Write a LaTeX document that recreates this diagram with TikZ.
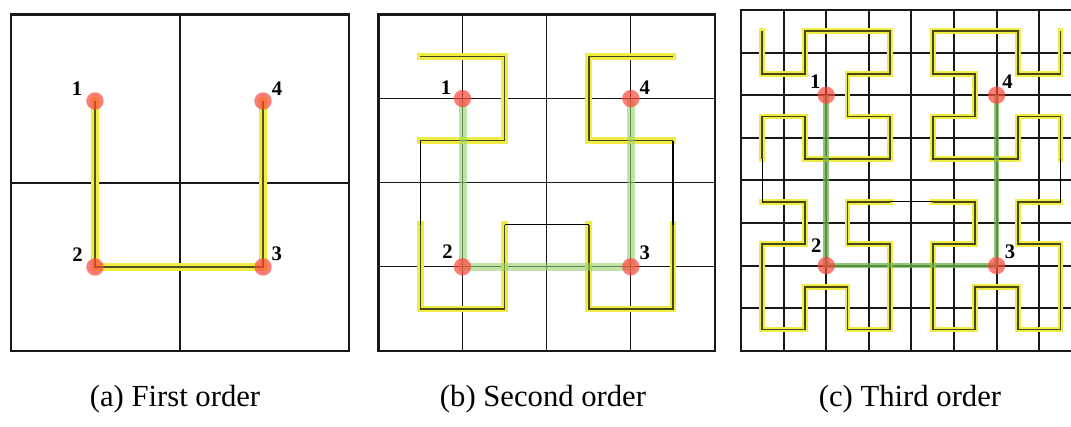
\documentclass[tikz,border=0pt]{standalone}
\usepackage{fontspec}
\setmainfont{Liberation Serif}
\definecolor{hyellow}{RGB}{240,236,70}
\definecolor{hgreenb}{RGB}{150,210,110}
\definecolor{hgreenc}{RGB}{110,180,80}
\definecolor{hred}{RGB}{250,70,60}
\begin{document}
\begin{tikzpicture}[x=0.75pt,y=-0.75pt,
  frame/.style={draw=black!90, line width=1.8pt},
  gridA/.style={draw=black!90, line width=1.5pt},
  gridB/.style={draw=black!90, line width=1pt},
  gridC/.style={draw=black!90, line width=1.4pt},
  ylwA/.style={draw=hyellow, line width=6pt, line cap=rect, line join=miter},
  ylwB/.style={draw=hyellow, line width=5pt, line cap=rect, line join=miter},
  ylwC/.style={draw=hyellow, line width=4.3pt, line cap=rect, line join=miter},
  coreA/.style={draw=black, draw opacity=0.65, line width=1.8pt},
  coreB/.style={draw=black, draw opacity=0.7, line width=1.3pt},
  conn/.style={draw=black, line width=0.9pt},
  grnB/.style={draw=hgreenb, draw opacity=0.6, line width=6pt},
  grnC/.style={draw=hgreenc, draw opacity=0.75, line width=4.2pt},
  dot/.style={circle, fill=hred, fill opacity=0.7, inner sep=0pt, minimum size=13pt},
  num/.style={font=\bfseries\fontsize{15.5}{15.5}\selectfont, inner sep=0pt},
  captxt/.style={font=\fontsize{23}{26}\selectfont, anchor=base, inner sep=0pt}]
\useasboundingbox (0,0) rectangle (1071,426);
\clip (0,0) rectangle (1071,426);
\fill[white] (0,0) rectangle (1071,426);

% ---------------- Panel (a)
\draw[gridA] (179.8,14.3) -- (179.8,351);
\draw[gridA] (10.7,182.6) -- (349,182.6);
\draw[frame] (10.7,14.3) rectangle (349,351);
\coordinate (a1) at (95,101);
\coordinate (a2) at (95,267);
\coordinate (a3) at (263,267);
\coordinate (a4) at (263,101);
\draw[ylwA] (a1) -- (a2) -- (a3) -- (a4);
\draw[coreA] (a1) -- (a2) -- (a3) -- (a4);
\foreach \p in {a1,a2,a3,a4} \node[dot] (\p d) at (\p) {};
\node[num] (la1) at ([shift={(-18,-12)}]a1) {1};
\node[num] (la2) at ([shift={(-17.5,-12.5)}]a2) {2};
\node[num] (la3) at ([shift={(13.7,-13)}]a3) {3};
\node[num] (la4) at ([shift={(14,-12)}]a4) {4};

% ---------------- Panel (b)
\foreach \i in {1,2,3} {
  \draw[gridB] (378.3+\i*84.17,14.3) -- (378.3+\i*84.17,351);
  \draw[gridB] (378.3,14.3+\i*84.17) -- (715,14.3+\i*84.17);
}
\draw[frame] (378.3,14.3) rectangle (715,351);
\begin{scope}[shift={(420.4,56.4)}, x={(63.13pt,0pt)}, y={(0pt,-63.13pt)}]
  \draw[ylwB] (0,0) -- (1,0) -- (1,1) -- (0,1);
  \draw[ylwB] (0,2) -- (0,3) -- (1,3) -- (1,2);
  \draw[ylwB] (2,2) -- (2,3) -- (3,3) -- (3,2);
  \draw[ylwB] (3,1) -- (2,1) -- (2,0) -- (3,0);
  \draw[coreB] (0,0) -- (1,0) -- (1,1) -- (0,1);
  \draw[coreB] (0,2) -- (0,3) -- (1,3) -- (1,2);
  \draw[coreB] (2,2) -- (2,3) -- (3,3) -- (3,2);
  \draw[coreB] (3,1) -- (2,1) -- (2,0) -- (3,0);
  \draw[conn] (0,1) -- (0,2);
  \draw[conn] (1,2) -- (2,2);
  \draw[conn] (3,2) -- (3,1);
\end{scope}
\coordinate (b1) at (462.5,98.5);
\coordinate (b2) at (462.5,266.8);
\coordinate (b3) at (630.8,266.8);
\coordinate (b4) at (630.8,98.5);
\draw[grnB] (b1) -- (b2) -- (b3) -- (b4);
\foreach \p in {b1,b2,b3,b4} \node[dot] (\p d) at (\p) {};
\node[num] (lb1) at ([shift={(-16.5,-10.5)}]b1) {1};
\node[num] (lb2) at ([shift={(-15,-15)}]b2) {2};
\node[num] (lb3) at ([shift={(14,-14)}]b3) {3};
\node[num] (lb4) at ([shift={(14,-10.5)}]b4) {4};

% ---------------- Panel (c)
\foreach \i in {1,...,7} {
  \draw[gridC] (741+\i*42.6,10) -- (741+\i*42.6,350.8);
  \draw[gridC] (741,10+\i*42.6) -- (1082,10+\i*42.6);
}
\draw[frame] (741,10) rectangle (1081.8,350.8);
\begin{scope}[shift={(762.3,31.3)}, x={(31.95pt,0pt)}, y={(0pt,-31.95pt)}]
  \foreach \s in {ylwC,coreB} {
    \draw[\s] (0,0) -- (0,1) -- (1,1) -- (1,0) -- (2,0) -- (3,0) -- (3,1) -- (2,1) -- (2,2) -- (3,2) -- (3,3) -- (2,3) -- (1,3) -- (1,2) -- (0,2) -- (0,3);
    \draw[\s] (0,4) -- (1,4) -- (1,5) -- (0,5) -- (0,6) -- (0,7) -- (1,7) -- (1,6) -- (2,6) -- (2,7) -- (3,7) -- (3,6) -- (3,5) -- (2,5) -- (2,4) -- (3,4);
    \draw[\s] (4,4) -- (5,4) -- (5,5) -- (4,5) -- (4,6) -- (4,7) -- (5,7) -- (5,6) -- (6,6) -- (6,7) -- (7,7) -- (7,6) -- (7,5) -- (6,5) -- (6,4) -- (7,4);
    \draw[\s] (7,3) -- (7,2) -- (6,2) -- (6,3) -- (5,3) -- (4,3) -- (4,2) -- (5,2) -- (5,1) -- (4,1) -- (4,0) -- (5,0) -- (6,0) -- (6,1) -- (7,1) -- (7,0);
  }
  \draw[conn] (0,3) -- (0,4);
  \draw[conn] (3,4) -- (4,4);
  \draw[conn] (7,4) -- (7,3);
\end{scope}
\coordinate (c1) at (826.2,95.2);
\coordinate (c2) at (826.2,265.6);
\coordinate (c3) at (996.6,265.6);
\coordinate (c4) at (996.6,95.2);
\draw[grnC] (c1) -- (c2) -- (c3) -- (c4);
\foreach \p in {c1,c2,c3,c4} \node[dot] (\p d) at (\p) {};
\node[num] (lc1) at ([shift={(-11,-14)}]c1) {1};
\node[num] (lc2) at ([shift={(-10,-19.5)}]c2) {2};
\node[num] (lc3) at ([shift={(13.5,-13.5)}]c3) {3};
\node[num] (lc4) at ([shift={(11,-14)}]c4) {4};

% ---------------- Captions
\node[captxt] (capa) at (175,406) {(a) First order};
\node[captxt] (capb) at (543,406) {(b) Second order};
\node[captxt] (capc) at (910,406) {(c) Third order};
\end{tikzpicture}
\end{document}
